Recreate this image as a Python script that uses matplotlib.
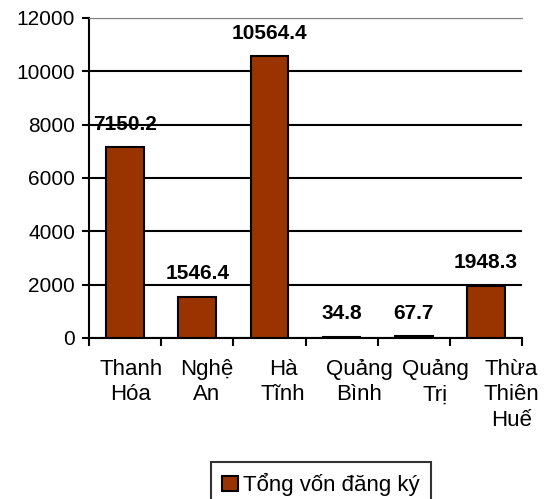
import numpy as np
import matplotlib.pyplot as plt
from matplotlib.patches import Patch

plt.rcParams['font.family'] = ['Liberation Sans', 'DejaVu Sans']

# data
provinces = ["Thanh\nHóa", "Nghệ\nAn", "Hà\nTĩnh", "Quảng\nBình", "Quảng\nTrị", "Thừa\nThiên\nHuế"]
capital = [7150.2, 1546.4, 10564.4, 34.8, 67.7, 1948.3]
value_labels = ["7150.2", "1546.4", "10564.4", "34.8", "67.7", "1948.3"]
yticks = [0, 2000, 4000, 6000, 8000, 10000, 12000]
series_name = "Tổng vốn đăng ký"

bar_color = "#993300"

fig = plt.figure(figsize=(5.49, 4.99), dpi=100)
ax = fig.add_axes([0.162, 0.323, 0.789, 0.641])

x = np.arange(len(provinces))
ax.bar(x, capital, width=0.52, color=bar_color, edgecolor="black", linewidth=1.5, zorder=3)

for xi, v, lab in zip(x, capital, value_labels):
    ax.annotate(lab, (xi, v), xytext=(0, 16.5), textcoords="offset points",
                ha="center", va="center", fontsize=15, fontweight="bold", zorder=4)

ax.set_xlim(-0.5, len(provinces) - 0.5)
ax.set_ylim(0, 12000)
ax.set_yticks(yticks)
ax.tick_params(axis="y", labelsize=15, direction="out", length=5, width=1.5, pad=5)
ax.grid(axis="y", color="black", linewidth=1.5, zorder=0)

# category boundaries as ticks
ax.set_xticks(np.arange(len(provinces) + 1) - 0.5)
ax.set_xticklabels([])
ax.tick_params(axis="x", direction="out", length=6, width=1.5)

# category names spread a little wider than the bars (as the original does)
lab_ax = ax.twiny()
lab_ax.xaxis.set_ticks_position("bottom")
lab_ax.xaxis.set_label_position("bottom")
lab_ax.set_xlim(-0.553, 5.145)
lab_ax.set_xticks(x)
lab_ax.set_xticklabels(provinces, fontsize=16, linespacing=1.3)
lab_ax.tick_params(axis="x", length=0, pad=15)
for s in lab_ax.spines.values():
    s.set_visible(False)

ax.spines["left"].set_linewidth(1.5)
ax.spines["bottom"].set_linewidth(1.5)
ax.spines["top"].set_color("gray")
ax.spines["right"].set_visible(False)

handle = Patch(facecolor=bar_color, edgecolor="black", linewidth=1.5)
fig.legend([handle], [series_name], loc="lower center", bbox_to_anchor=(0.585, -0.03),
           fontsize=16, frameon=True, fancybox=False, edgecolor="black",
           handlelength=0.7, handleheight=0.7, handletextpad=0.25, borderpad=0.5,
           borderaxespad=0.3)
leg = fig.legends[0]
leg.get_frame().set_linewidth(1.5)

fig.savefig("out.png", dpi=100)
